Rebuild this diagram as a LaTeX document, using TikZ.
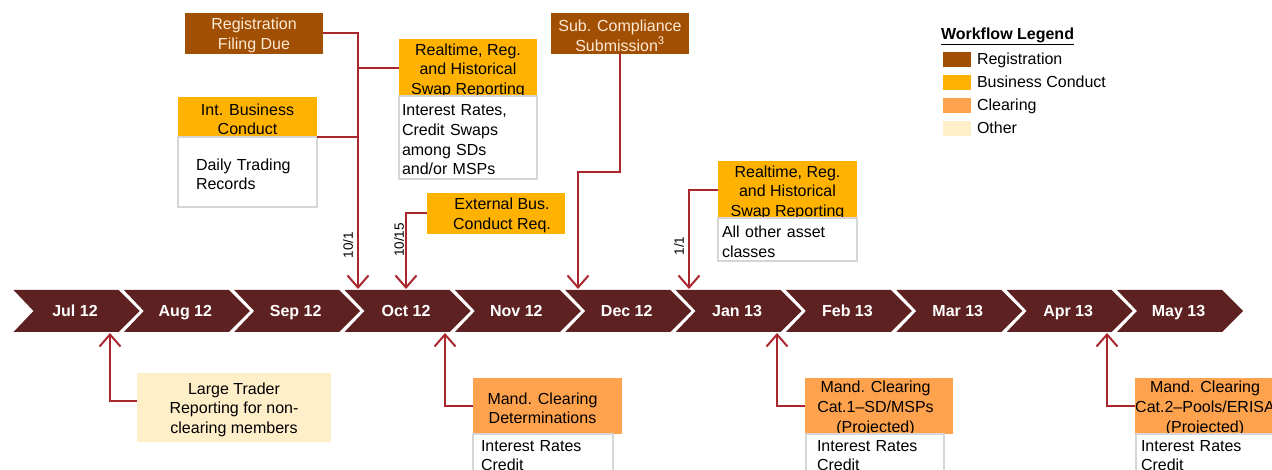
\documentclass[tikz,border=0pt]{standalone}
\usepackage{fontspec}
\setmainfont{Liberation Sans}
\usetikzlibrary{arrows.meta,calc}
\definecolor{regc}{HTML}{A14F02}
\definecolor{busc}{HTML}{FFB300}
\definecolor{clrc}{HTML}{FFA24E}
\definecolor{othc}{HTML}{FFEFC9}
\definecolor{chevc}{HTML}{5E2121}
\definecolor{linec}{HTML}{A8262C}
\definecolor{bodyb}{HTML}{D6D6D6}
\definecolor{lighttxt}{HTML}{FFEBD6}
\newcommand{\tp}{\rule{0pt}{16pt}}
\begin{document}
\begin{tikzpicture}[x=1pt,y=-1pt,
  every node/.style={inner sep=0pt, outer sep=0pt, font=\fontsize{16}{19.7}\selectfont},
  wh/.style 2 args={minimum width=#1, minimum height=#2},
  regbox/.style={fill=regc, text=lighttxt, align=center},
  busbox/.style={fill=busc, align=center},
  clrbox/.style={fill=clrc, align=center},
  othbox/.style={fill=othc, align=center},
  bodybox/.style={fill=white, draw=bodyb, line width=1.5pt, align=left},
  conn/.style={draw=linec, line width=2pt, -{Straight Barb[length=12pt,width=21pt]}},
  branch/.style={draw=linec, line width=2pt},
  month/.style={text=white, font=\fontsize{16}{19}\selectfont\bfseries, text height=11.5pt, text depth=0pt},
  datelbl/.style={rotate=90, font=\fontsize{13.5}{16}\selectfont},
  swatch/.style={minimum width=28pt, minimum height=15pt},
  legtxt/.style={anchor=west, text height=11.5pt, text depth=0pt}
]
\useasboundingbox (0,0) rectangle (1272,470);
\clip (0,0) rectangle (1272,470);

% timeline chevrons
\foreach \i/\m in {0/Jul 12,1/Aug 12,2/Sep 12,3/Oct 12,4/Nov 12,5/Dec 12,6/Jan 13,7/Feb 13,8/Mar 13,9/Apr 13,10/May 13}{
  \pgfmathsetmacro\a{13.5+110.35*\i}
  \fill[chevc] (\a,290) -- ++(105,0) -- ++(21,21) -- ++(-21,21) -- ++(-105,0) -- ++(20,-21) -- cycle;
  \node[month] (m\i) at (\a+61.5,311) {\m};
}

% arrow targets
\coordinate (t101) at (358,289);
\coordinate (t1015) at (406,289);
\coordinate (tdec) at (578,289);
\coordinate (t11) at (689,289);
\coordinate (bjul) at (110,333);
\coordinate (boct) at (445,333);
\coordinate (bjan) at (777,333);
\coordinate (bapr) at (1107,333);
\coordinate (sb) at (578,172);

% top boxes
\node[regbox, wh={138pt}{41pt}] (reg) at (254,33.5) {\tp Registration\\Filing Due};
\node[busbox, wh={138pt}{55pt}] (rt1h) at (468,68.5) {\tp Realtime, Reg.\\and Historical\\Swap Reporting};
\node[bodybox, wh={138pt}{83pt}, text width=132pt, inner xsep=3pt] (rt1b) at (468,137.5) {\tp Interest Rates,\\Credit Swaps\\among SDs\\and/or MSPs};
\node[busbox, wh={139pt}{40pt}] (ibch) at (247.5,117) {\tp Int. Business\\Conduct};
\node[bodybox, wh={139pt}{70pt}, text width=103pt, inner xsep=18pt] (ibcb) at (247.5,172) {\tp Daily Trading\\Records};
\node[regbox, wh={138pt}{41pt}] (sub) at (620,33.5) {\tp Sub. Compliance\\Submission\textsuperscript{3}};
\node[busbox, wh={138pt}{41pt}] (ext) at (496,213.5) {};
\node[align=center] (extt) at ([xshift=6pt]ext.center) {\tp External Bus.\\Conduct Req.};
\node[busbox, wh={139pt}{55pt}] (rt2h) at (787.5,190.5) {\tp Realtime, Reg.\\and Historical\\Swap Reporting};
\node[bodybox, wh={139pt}{43pt}, text width=131pt, inner xsep=4pt] (rt2b) at (787.5,239.5) {\tp All other asset\\classes};

% date labels
\node[datelbl] (d101) at (348,245) {10/1};
\node[datelbl] (d1015) at (399,240) {10/15};
\node[datelbl] (d11) at (679,246) {1/1};

% top connectors
\draw[conn] (reg.east) -| (t101);
\draw[branch] (rt1h.west) -- (rt1h.west -| t101);
\draw[branch] (ibch.south east) -- (ibch.south east -| t101);
\draw[conn] (ext.west) -| (t1015);
\draw[conn] (sub.south) |- (sb) -- (tdec);
\draw[conn] (rt2h.west) -| (t11);

% bottom boxes
\node[othbox, wh={194pt}{69pt}] (lt) at (234,407.5) {\tp Large Trader\\Reporting for non-\\clearing members};
\node[clrbox, wh={149pt}{56pt}] (mcd) at (547.5,406) {};
\node[align=center] (mcdt) at ([xshift=-5pt]mcd.center) {\tp Mand. Clearing\\Determinations};
\node[bodybox, wh={140pt}{43pt}, text width=124pt, inner xsep=8pt] (mcdb) at (543,455.5) {Interest Rates\\Credit};
\node[clrbox, wh={148pt}{56pt}] (mc1) at (879,406) {};
\node[align=center] (mc1t) at ([xshift=-3.5pt]mc1.center) {\tp Mand. Clearing\\Cat.1--SD/MSPs\\(Projected)};
\node[bodybox, wh={138pt}{43pt}, text width=116pt, inner xsep=11pt] (mc1b) at (875,455.5) {Interest Rates\\Credit};
\node[clrbox, wh={148pt}{56pt}] (mc2) at (1209,406) {};
\node[align=center] (mc2t) at ([xshift=-4pt]mc2.center) {\tp Mand. Clearing\\Cat.2--Pools/ERISA\\(Projected)};
\node[bodybox, wh={139pt}{43pt}, text width=129pt, inner xsep=5pt] (mc2b) at (1205.5,455.5) {Interest Rates\\Credit};

% bottom connectors
\draw[conn] ([yshift=6.5pt]lt.west) -| (bjul);
\draw[conn] (mcd.west) -| (boct);
\draw[conn] (mc1.west) -| (bjan);
\draw[conn] (mc2.west) -| (bapr);

% legend
\node[anchor=west, font=\fontsize{16}{19}\selectfont\bfseries, text height=11.5pt, text depth=0pt] (lgt) at (941,34) {\underline{Workflow Legend}};
\node[swatch, fill=regc] (sw1) at (957,59.5) {};
\node[swatch, fill=busc] (sw2) at (957,83) {};
\node[swatch, fill=clrc] (sw3) at (957,105.5) {};
\node[swatch, fill=othc] (sw4) at (957,128.5) {};
\node[legtxt] (lg1) at (977,58.5) {Registration};
\node[legtxt] (lg2) at (977,82) {Business Conduct};
\node[legtxt] (lg3) at (977,105) {Clearing};
\node[legtxt] (lg4) at (977,127.5) {Other};
\end{tikzpicture}
\end{document}
